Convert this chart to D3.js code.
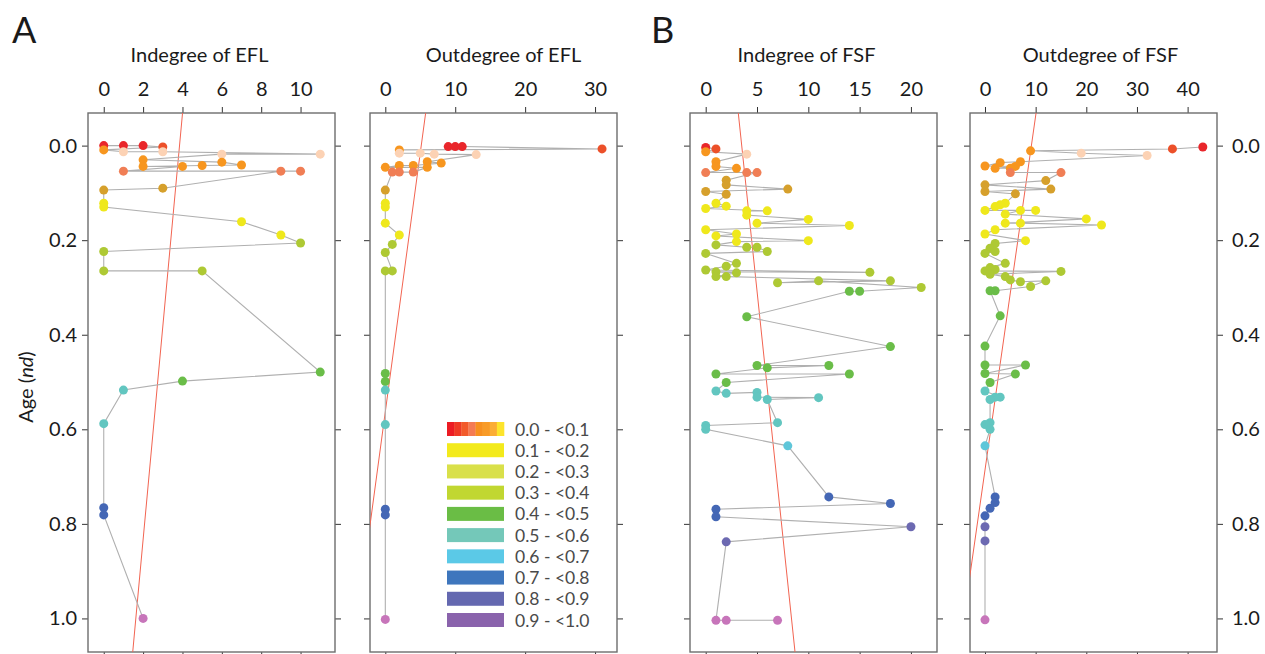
<!DOCTYPE html>
<html>
<head>
<meta charset="utf-8">
<script src="https://cdn.jsdelivr.net/npm/d3@7"></script>
<style>
  html, body { margin: 0; padding: 0; background: #fff; }
  svg text { font-family: Lato, "Open Sans", sans-serif; fill: #1a1a1a; }
</style>
</head>
<body>
<div id="chart"></div>
<script>
// [age, degree, colour key] in plotting order
const eflIndegree = [
  [0.000,0,"r"],[0.000,1,"r"],[0.000,2,"r"],[0.003,3,"ro"],[0.009,0,"or"],[0.013,1,"pe"],[0.013,3,"pe"],
  [0.018,11,"pe"],[0.018,6,"pe"],[0.030,2,"or"],[0.035,6,"or"],[0.041,7,"or"],[0.042,5,"or"],[0.044,2,"or"],
  [0.044,4,"or"],[0.054,1,"sa"],[0.054,10,"sa"],[0.054,9,"sa"],[0.090,3,"go"],[0.094,0,"go"],[0.122,0,"ye"],
  [0.130,0,"ye"],[0.161,7,"ye"],[0.189,9,"ye"],[0.206,10,"yg"],[0.224,0,"yg"],[0.265,0,"yg"],[0.265,5,"yg"],
  [0.479,11,"gr"],[0.498,4,"gr"],[0.517,1,"te"],[0.588,0,"te"],[0.766,0,"bl"],[0.781,0,"bl"],[1.000,2,"pk"]
];
const eflOutdegree = [
  [0.002,9,"r"],[0.002,10,"r"],[0.002,11,"r"],[0.007,31,"ro"],[0.009,2,"or"],[0.016,2,"pe"],[0.016,5,"pe"],
  [0.018,7,"pe"],[0.019,13,"pe"],[0.034,6,"or"],[0.037,8,"or"],[0.042,4,"or"],[0.042,2,"or"],[0.046,0,"or"],
  [0.046,6,"or"],[0.056,4,"sa"],[0.056,2,"sa"],[0.056,1,"sa"],[0.094,0,"go"],[0.122,0,"ye"],[0.130,0,"ye"],
  [0.164,0,"ye"],[0.189,2,"ye"],[0.209,1,"yg"],[0.226,0,"yg"],[0.265,1,"yg"],[0.265,0,"yg"],[0.482,0,"gr"],
  [0.499,0,"gr"],[0.517,0,"te"],[0.590,0,"te"],[0.769,0,"bl"],[0.781,0,"bl"],[1.002,0,"pk"]
];
const fsfIndegree = [
  [0.004,0,"r"],[0.007,1,"ro"],[0.013,0,"or"],[0.018,4,"pe"],[0.034,1,"or"],[0.044,1,"or"],[0.048,3,"or"],
  [0.057,0,"sa"],[0.057,4,"sa"],[0.057,5,"sa"],[0.073,2,"go"],[0.083,2,"go"],[0.092,8,"go"],[0.097,0,"go"],
  [0.103,2,"go"],[0.122,1,"ye"],[0.128,2,"ye"],[0.133,0,"ye"],[0.138,6,"ye"],[0.138,4,"ye"],[0.147,4,"ye"],
  [0.156,10,"ye"],[0.164,5,"ye"],[0.169,14,"ye"],[0.178,0,"ye"],[0.187,3,"ye"],[0.191,1,"ye"],[0.201,10,"ye"],
  [0.203,3,"ye"],[0.210,1,"yg"],[0.215,4,"yg"],[0.215,5,"yg"],[0.224,6,"yg"],[0.228,0,"yg"],[0.249,3,"yg"],
  [0.255,2,"yg"],[0.263,0,"yg"],[0.268,16,"yg"],[0.267,1,"yg"],[0.269,3,"yg"],[0.277,1,"yg"],[0.277,2,"yg"],
  [0.286,18,"yg"],[0.290,7,"yg"],[0.286,11,"yg"],[0.300,21,"yg"],[0.308,15,"gr"],[0.308,14,"gr"],[0.362,4,"gr"],
  [0.425,18,"gr"],[0.465,5,"gr"],[0.465,12,"gr"],[0.470,6,"gr"],[0.483,1,"gr"],[0.483,14,"gr"],[0.501,2,"gr"],
  [0.519,1,"te"],[0.524,2,"te"],[0.522,5,"te"],[0.532,5,"te"],[0.533,11,"te"],[0.537,6,"te"],[0.586,7,"te"],
  [0.592,0,"te"],[0.600,0,"te"],[0.635,8,"cy"],[0.743,12,"bl"],[0.757,18,"bl"],[0.769,1,"bl"],[0.785,1,"bl"],
  [0.806,20,"pu"],[0.838,2,"pu"],[1.004,1,"pk"],[1.004,2,"pk"],[1.004,7,"pk"]
];
const fsfOutdegree = [
  [0.003,43,"r"],[0.007,37,"ro"],[0.011,9,"or"],[0.016,19,"pe"],[0.021,32,"pe"],[0.034,7,"or"],[0.036,3,"or"],
  [0.043,0,"or"],[0.044,6,"or"],[0.048,2,"or"],[0.048,5,"or"],[0.057,5,"sa"],[0.057,15,"sa"],[0.074,12,"go"],
  [0.083,0,"go"],[0.092,13,"go"],[0.097,0,"go"],[0.102,6,"go"],[0.122,4,"ye"],[0.125,3,"ye"],[0.129,2,"ye"],
  [0.137,0,"ye"],[0.137,10,"ye"],[0.137,7,"ye"],[0.145,4,"ye"],[0.155,20,"ye"],[0.164,4,"ye"],[0.164,7,"ye"],
  [0.168,23,"ye"],[0.178,2,"ye"],[0.187,0,"ye"],[0.201,8,"ye"],[0.207,2,"yg"],[0.217,1,"yg"],[0.224,2,"yg"],
  [0.228,0,"yg"],[0.249,4,"yg"],[0.258,1,"yg"],[0.262,2,"yg"],[0.265,0,"yg"],[0.266,15,"yg"],[0.272,1,"yg"],
  [0.277,4,"yg"],[0.284,5,"yg"],[0.288,7,"yg"],[0.286,12,"yg"],[0.298,9,"yg"],[0.307,2,"gr"],[0.307,1,"gr"],
  [0.360,3,"gr"],[0.424,0,"gr"],[0.464,0,"gr"],[0.464,8,"gr"],[0.482,0,"gr"],[0.483,6,"gr"],[0.501,1,"gr"],
  [0.519,0,"te"],[0.532,3,"te"],[0.532,2,"te"],[0.537,1,"te"],[0.586,1,"te"],[0.590,0,"te"],[0.600,1,"te"],
  [0.635,0,"cy"],[0.743,2,"bl"],[0.755,2,"bl"],[0.767,1,"bl"],[0.783,0,"bl"],[0.806,0,"pu"],[0.836,0,"pu"],
  [1.003,0,"pk"]
];

// fitted trend lines: degree = intercept + slope * age
const trendIntercepts = [3.85, 5.14, 3.51, 9.16];
const trendSlopes = [-2.22, -9.13, 4.85, -13.35];

const panelTitles = ["Indegree of EFL", "Outdegree of EFL", "Indegree of FSF", "Outdegree of FSF"];
const xTicks = [[0,2,4,6,8,10], [0,10,20,30], [0,5,10,15,20], [0,10,20,30,40]];
const xDomains = [[-0.8, 11.75], [-2.19, 33.14], [-1.53, 22.54], [-2.96, 45.8]];
const ageTicks = [0, 0.2, 0.4, 0.6, 0.8, 1.0];
const ageDomain = [-0.069, 1.071];

const legendLabels = ["0.0 - <0.1","0.1 - <0.2","0.2 - <0.3","0.3 - <0.4","0.4 - <0.5",
                      "0.5 - <0.6","0.6 - <0.7","0.7 - <0.8","0.8 - <0.9","0.9 - <1.0"];
const legendColors = [null,"#f3ea1c","#d9e04a","#c1d731","#6abd45","#74c8b9","#5bc9e7","#3e76bd","#6468b0","#8a63ac"];
const firstBandColors = ["#ec1c24","#ef3a25","#f25a2a","#f47b53","#f7901f","#f89b27","#fbad35","#fde42c"];

const pointColors = {
  r: "#e9262b", ro: "#ec5029", pe: "#fcd2b4", or: "#f7961f", sa: "#f07e55", go: "#d6a02c",
  ye: "#efe81c", yg: "#aec934", gr: "#6abd48", te: "#62c6c0", cy: "#5fc6d9", bl: "#4467b5",
  pu: "#6c69b1", pk: "#c775ba"
};

const W = 1265, H = 654;
const panelLeft = [88, 370, 690, 970];
const panelWidth = 247;
const plotTop = 113, plotBottom = 652;
const titleOffsets = [-12, 10, -7, 7];
const fontSize = "20px";

const svg = d3.select("#chart").append("svg")
  .attr("width", W).attr("height", H)
  .style("display", "block").style("background", "#fff");

const y = d3.scaleLinear().domain(ageDomain).range([plotTop, plotBottom]);

const series = [eflIndegree, eflOutdegree, fsfIndegree, fsfOutdegree];

series.forEach((data, i) => {
  const x0 = panelLeft[i], x1 = x0 + panelWidth;
  const x = d3.scaleLinear().domain(xDomains[i]).range([x0, x1]);
  const g = svg.append("g");

  svg.append("clipPath").attr("id", "clip" + i)
    .append("rect").attr("x", x0).attr("y", plotTop).attr("width", panelWidth).attr("height", plotBottom - plotTop);

  // top axis with labels
  const topAxis = g.append("g").attr("transform", `translate(0,${plotTop})`)
    .call(d3.axisTop(x).tickValues(xTicks[i]).tickSize(6).tickPadding(11).tickFormat(d3.format("d")));
  // bottom ticks only
  const botAxis = g.append("g").attr("transform", `translate(0,${plotBottom})`)
    .call(d3.axisBottom(x).tickValues(xTicks[i]).tickSize(6).tickFormat(""));
  // left / right ticks
  const leftAxis = g.append("g").attr("transform", `translate(${x0},0)`)
    .call(d3.axisLeft(y).tickValues(ageTicks).tickSize(6).tickPadding(5)
      .tickFormat(i === 0 ? d3.format(".1f") : ""));
  const rightAxis = g.append("g").attr("transform", `translate(${x1},0)`)
    .call(d3.axisRight(y).tickValues(ageTicks).tickSize(6).tickPadding(9)
      .tickFormat(i === 3 ? d3.format(".1f") : ""));

  [topAxis, botAxis, leftAxis, rightAxis].forEach(a => {
    a.select(".domain").remove();
    a.selectAll(".tick line").attr("stroke", "#333").attr("stroke-width", 1);
    a.selectAll(".tick text").style("font-size", fontSize).attr("fill", "#1a1a1a")
      .style("font-family", "Lato, sans-serif");
  });

  // frame
  g.append("rect").attr("x", x0).attr("y", plotTop).attr("width", panelWidth).attr("height", plotBottom - plotTop)
    .attr("fill", "none").attr("stroke", "#6d6d6d").attr("stroke-width", 1.4);

  // title
  g.append("text").attr("x", (x0 + x1) / 2 + titleOffsets[i]).attr("y", 62)
    .attr("text-anchor", "middle").style("font-size", fontSize).text(panelTitles[i]);

  const plot = g.append("g").attr("clip-path", `url(#clip${i})`);

  // trend line
  const a0 = ageDomain[0], a1 = ageDomain[1];
  plot.append("line")
    .attr("x1", x(trendIntercepts[i] + trendSlopes[i] * a0)).attr("y1", y(a0))
    .attr("x2", x(trendIntercepts[i] + trendSlopes[i] * a1)).attr("y2", y(a1))
    .attr("stroke", "#f26451").attr("stroke-width", 1);

  // connecting line
  plot.append("path").datum(data)
    .attr("d", d3.line().x(d => x(d[1])).y(d => y(d[0])))
    .attr("fill", "none").attr("stroke", "#b0b0b0").attr("stroke-width", 1.1);

  plot.selectAll("circle").data(data).join("circle")
    .attr("cx", d => x(d[1])).attr("cy", d => y(d[0])).attr("r", 4.5)
    .attr("fill", d => pointColors[d[2]]);
});

// panel letters
svg.append("text").attr("x", 12).attr("y", 43).style("font-size", "36px").text("A");
svg.append("text").attr("x", 651).attr("y", 43).style("font-size", "36px").text("B");

// y label
const yl = svg.append("text").attr("transform", "translate(33,387) rotate(-90)")
  .attr("text-anchor", "middle").style("font-size", fontSize);
yl.append("tspan").text("Age (");
yl.append("tspan").style("font-style", "italic").text("nd");
yl.append("tspan").text(")");

// legend
const lg = svg.append("g");
const lx = 447, lw = 57, lh = 14;
const ly = d3.scaleLinear().domain([0, 9]).range([429, 620]);
legendLabels.forEach((lab, k) => {
  const cy = ly(k);
  if (k === 0) {
    const bx = d3.scaleBand().domain(d3.range(firstBandColors.length)).range([lx, lx + lw]);
    firstBandColors.forEach((c, j) => {
      lg.append("rect").attr("x", bx(j)).attr("y", cy - lh / 2).attr("width", bx.bandwidth() + 0.3)
        .attr("height", lh).attr("fill", c);
    });
  } else {
    lg.append("rect").attr("x", lx).attr("y", cy - lh / 2).attr("width", lw).attr("height", lh)
      .attr("fill", legendColors[k]);
  }
  lg.append("text").attr("x", lx + 68).attr("y", cy + 6.5).style("font-size", "17.5px")
    .style("fill", "#4a4a4a").text(lab);
});
</script>
</body>
</html>
